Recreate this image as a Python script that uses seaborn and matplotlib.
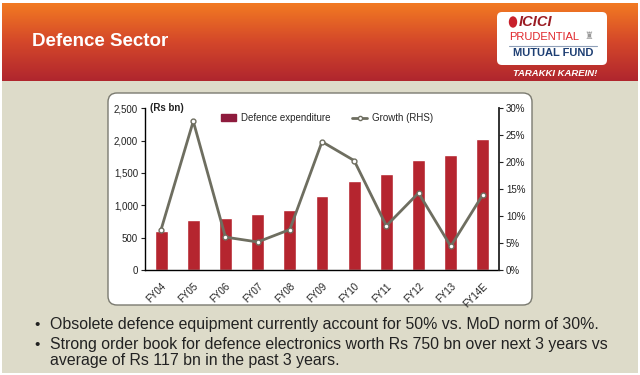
import matplotlib
matplotlib.use("Agg")
import matplotlib.pyplot as plt
import numpy as np
import pandas as pd
import seaborn as sns
from matplotlib.patches import FancyBboxPatch, Rectangle, Patch, Ellipse
from matplotlib.lines import Line2D
from matplotlib.colors import LinearSegmentedColormap
from matplotlib.ticker import FuncFormatter, PercentFormatter

# Dados
years = ["FY04", "FY05", "FY06", "FY07", "FY08", "FY09", "FY10", "FY11", "FY12", "FY13", "FY14E"]
spend = [600, 770, 810, 860, 925, 1140, 1375, 1490, 1705, 1780, 2030]
growth = [7.5, 27.6, 6.1, 5.2, 7.5, 23.8, 20.3, 8.2, 14.3, 4.4, 14.0]

title = "Defence Sector"
bullets = [
    "Obsolete defence equipment currently account for 50% vs. MoD norm of 30%.",
    "Strong order book for defence electronics worth Rs 750 bn over next 3 years vs\naverage of Rs 117 bn in the past 3 years.",
]

sns.set_theme(style="white")
plt.rcParams['font.family'] = ['Liberation Sans', 'DejaVu Sans']

fig = plt.figure(figsize=(6.4, 3.75), dpi=100, facecolor="white")

# Fundo do slide (coordenadas em pixels)
bg = fig.add_axes([0, 0, 1, 1])
bg.set_xlim(0, 640)
bg.set_ylim(375, 0)
bg.axis("off")

bg.add_patch(Rectangle((2, 81), 636, 292, color="#DDDBC9", lw=0))
cmap = LinearSegmentedColormap.from_list("hdr", ["#F27A22", "#D4472A", "#B0262E"])
bg.imshow(np.linspace(0, 1, 100).reshape(-1, 1), extent=(2, 638, 81, 3),
          cmap=cmap, aspect="auto", interpolation="bilinear")
bg.set_xlim(0, 640)
bg.set_ylim(375, 0)
bg.text(32, 42, title, color="white", fontsize=13.5, fontweight="bold", va="center")

# Logo
bg.add_patch(FancyBboxPatch((497, 12), 110, 53, boxstyle="round,pad=0,rounding_size=5",
                            fc="white", ec="none"))
bg.add_patch(Ellipse((513, 22), 7, 10, color="#C8202B"))
bg.text(519, 22.5, "ICICI", color="#9B1C24", fontsize=10.5, fontweight="bold",
        fontstyle="italic", va="center")
bg.text(509, 37, "PRUDENTIAL", color="#E0262B", fontsize=8, va="center")
bg.text(584, 36, "♜", color="#9A9A9A", fontsize=7, va="center",
        family=["DejaVu Sans"])
bg.plot([509, 597], [46, 46], color="#8FA0B8", lw=0.8)
bg.text(553, 53.5, "MUTUAL FUND", color="#1E3F73", fontsize=8, fontweight="bold",
        va="center", ha="center")
bg.text(555, 73, "TARAKKI KAREIN!", color="white", fontsize=6.8, fontweight="bold",
        fontstyle="italic", va="center", ha="center")

# Painel do gráfico
bg.add_patch(FancyBboxPatch((108, 93), 424, 212, boxstyle="round,pad=0,rounding_size=9",
                            fc="white", ec="#7A7A70", lw=1))

# Bullets
bg.text(34, 325, "•", fontsize=11, va="center", color="#222222")
bg.text(50, 325, bullets[0], fontsize=11.4, va="center", color="#222222")
bg.text(34, 345, "•", fontsize=11, va="center", color="#222222")
bg.text(50, 337, bullets[1], fontsize=11.4, va="top", color="#222222", linespacing=1.1)

# Gráfico de barras
ax = fig.add_axes([145 / 640, 1 - 270 / 375, (499 - 145) / 640, (270 - 108.3) / 375])
ax.set_facecolor("none")
sns.barplot(x=years, y=spend, color="#B5252F", saturation=1, width=0.4, ax=ax)
ax.set_ylim(0, 2500)
ax.set_yticks(range(0, 2501, 500))
ax.yaxis.set_major_formatter(FuncFormatter(lambda v, p: f"{v:,.0f}"))
for s in ["left", "bottom"]:
    ax.spines[s].set_color("black")
    ax.spines[s].set_linewidth(1)
ax.spines["top"].set_visible(False)
ax.spines["right"].set_visible(False)
ax.tick_params(axis="y", left=True, length=3, width=0.8, labelsize=7, pad=2, colors="#222222")
ax.tick_params(axis="x", bottom=False, labelsize=7, pad=2, colors="#222222")
plt.setp(ax.get_xticklabels(), rotation=45, ha="right", rotation_mode="anchor")
ax.text(0.015, 1.0, "(Rs bn)", transform=ax.transAxes, fontsize=7, fontweight="bold",
        va="center", ha="left", color="#222222")

# Linha de crescimento (eixo direito)
ax2 = ax.twinx()
sns.lineplot(x=np.arange(len(years)), y=growth, ax=ax2, color="#6E6E60", lw=2,
             marker="o", markersize=3.5, markerfacecolor="white",
             markeredgecolor="#6E6E60", markeredgewidth=1)
ax.set_xlim(-0.5, len(years) - 0.5)
ax2.set_ylim(0, 30)
ax2.set_yticks(range(0, 31, 5))
ax2.yaxis.set_major_formatter(PercentFormatter(decimals=0))
ax2.set_ylabel("")
for s in ["left", "top", "bottom"]:
    ax2.spines[s].set_visible(False)
ax2.spines["right"].set_color("#222222")
ax2.spines["right"].set_linewidth(1.3)
ax2.tick_params(axis="y", right=True, length=3, width=0.8, labelsize=7, pad=2, colors="#222222")

handles = [Patch(color="#8E1B3D"),
           Line2D([0], [0], color="#6E6E60", lw=2, marker="o", markersize=3,
                  markerfacecolor="white", markeredgecolor="#6E6E60")]
ax2.legend(handles, ["Defence expenditure", "Growth (RHS)"], ncol=2, frameon=False,
           loc="center", bbox_to_anchor=(327 / 640, 1 - 118 / 375),
           bbox_transform=fig.transFigure, fontsize=7, handlelength=1.6,
           handleheight=0.7, columnspacing=2.2, handletextpad=0.5)

fig.savefig("out.png", dpi=100, facecolor="white")
